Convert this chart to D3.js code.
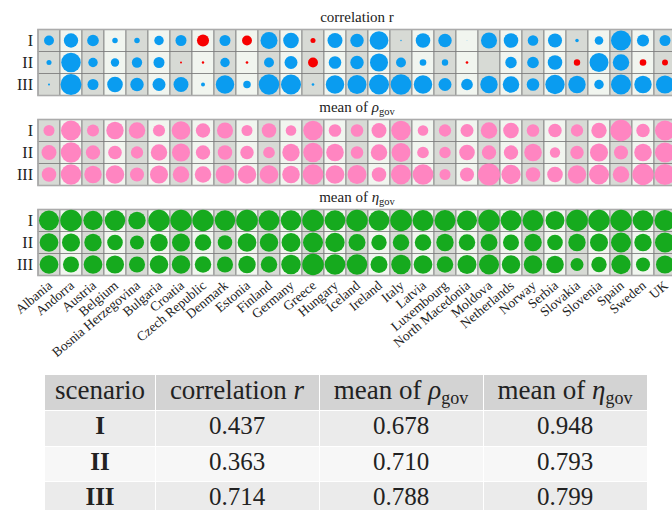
<!DOCTYPE html>
<html>
<head>
<meta charset="utf-8">
<script src="https://cdn.jsdelivr.net/npm/d3@7"></script>
<style>
body { margin: 0; background: #fff; }
text { font-family: "Liberation Serif", "DejaVu Serif", serif; fill: #222; }
</style>
</head>
<body>
<svg width="672" height="510"></svg>
<script>
// countries along the x axis
var countries = ['Albania','Andorra','Austria','Belgium','Bosnia Herzegovina','Bulgaria','Croatia',
  'Czech Republic','Denmark','Estonia','Finland','Germany','Greece','Hungary','Iceland','Ireland',
  'Italy','Latvia','Luxembourg','North Macedonia','Moldova','Netherlands','Norway','Serbia',
  'Slovakia','Slovenia','Spain','Sweden','UK'];
var scenarios = ['I','II','III'];

// correlation r per scenario (negative = red)
var corrI   = [0.45,0.65,0.53,0.25,0.25,0.43,0.50,-0.55,0.50,-0.45,0.77,0.71,-0.23,0.68,0.61,0.85,0.06,0.66,0.61,0.03,0.73,0.66,0.48,0.64,0.16,0.39,0.91,0.55,0.50];
var corrII  = [0.23,0.89,0.43,0.38,0.47,0.50,-0.09,-0.11,0.43,-0.12,0.45,0.59,-0.45,0.57,0.61,0.82,0.45,0.30,0.29,-0.12,null,0.52,0.53,0.66,-0.29,0.86,0.75,-0.30,-0.27];
var corrIII = [0.09,0.95,0.50,0.71,0.61,0.59,0.68,0.18,0.84,0.34,0.93,0.91,0.12,0.84,0.86,0.91,0.94,0.84,0.59,0.53,0.79,0.75,0.57,0.88,0.79,0.43,0.91,0.79,0.82];

// mean of rho_gov
var rhoI   = [0.50,0.91,0.55,0.79,0.75,0.55,0.85,0.65,0.73,0.50,0.66,0.48,0.89,0.57,0.57,0.68,0.89,0.48,0.56,0.59,0.75,0.71,0.57,0.61,0.56,0.70,0.97,0.61,0.91];
var rhoII  = [0.68,0.93,0.65,0.62,0.56,0.75,0.82,0.65,0.66,0.61,0.53,0.79,0.89,0.80,0.57,0.75,0.86,0.53,0.52,0.71,0.65,0.65,0.80,0.47,0.61,0.82,0.64,0.80,0.91];
var rhoIII = [0.66,0.93,0.79,0.84,0.64,0.82,0.75,0.75,0.85,0.84,0.85,0.80,0.94,0.85,0.86,0.66,0.91,0.94,0.50,0.64,1.00,0.88,0.66,0.71,0.84,0.91,0.75,0.97,0.95];

// mean of eta_gov
var etaI   = [0.91,0.98,0.88,0.93,0.79,0.97,0.97,0.97,0.93,0.98,0.94,0.93,0.98,0.94,0.97,0.94,0.98,0.95,0.95,0.91,0.97,0.94,0.95,0.86,0.98,0.97,0.97,0.94,0.95];
var etaII  = [0.85,0.82,0.79,0.71,0.64,0.80,0.82,0.75,0.66,0.85,0.84,0.86,0.91,0.88,0.77,0.70,0.75,0.75,0.79,0.75,0.77,0.73,0.80,0.71,0.79,0.82,0.91,0.79,0.91];
var etaIII = [0.85,0.73,0.85,0.82,0.73,0.84,0.84,0.75,0.73,0.79,0.75,0.89,0.98,0.94,0.93,0.77,0.89,0.85,0.75,0.86,0.91,0.84,0.84,0.80,0.59,0.70,0.88,0.64,0.82];

// summary table
var tableCorr = ['0.437','0.363','0.714'];
var tableRho  = ['0.678','0.710','0.788'];
var tableEta  = ['0.948','0.793','0.799'];

var svg = d3.select('svg');

var cell = 22;
var x = d3.scaleBand().domain(countries).range([38, 38 + cell * countries.length]);
var r = d3.scaleLinear().domain([0, 1]).range([0, 11]);

var panels = [
  {name: 'corr', top: 29.5, rows: [corrI, corrII, corrIII], title: 'correlation r', titleY: 22},
  {name: 'rho',  top: 119.5, rows: [rhoI, rhoII, rhoIII], title: 'ρ', titleY: 112, color: '#ff85c1'},
  {name: 'eta',  top: 209.5, rows: [etaI, etaII, etaIII], title: 'η', titleY: 202, color: '#16aa1e'}
];

var midX = (x.range()[0] + x.range()[1]) / 2;

panels.forEach(function(p) {
  var y = d3.scaleBand().domain(scenarios).range([p.top, p.top + cell * 3]);
  var g = svg.append('g');

  // striped cells
  scenarios.forEach(function(s) {
    g.selectAll('.c' + s)
      .data(countries)
      .enter()
      .append('rect')
      .attr('x', function(d) { return x(d); })
      .attr('y', y(s))
      .attr('width', x.bandwidth())
      .attr('height', y.bandwidth())
      .attr('fill', function(d, i) { return i % 2 == 0 ? '#d7dad5' : '#f1f5ef'; })
      .attr('stroke', '#7d7d7d')
      .attr('stroke-width', 0.8);
  });

  // frame
  g.append('rect')
    .attr('x', x.range()[0])
    .attr('y', p.top)
    .attr('width', x.range()[1] - x.range()[0])
    .attr('height', cell * 3)
    .attr('fill', 'none')
    .attr('stroke', '#ababab')
    .attr('stroke-width', 1.6);

  // circles
  p.rows.forEach(function(vals, k) {
    g.selectAll('.dot' + k)
      .data(vals.map(function(v, i) { return {c: countries[i], v: v}; }).filter(function(d) { return d.v != null; }))
      .enter()
      .append('circle')
      .attr('cx', function(d) { return x(d.c) + x.bandwidth() / 2; })
      .attr('cy', y(scenarios[k]) + y.bandwidth() / 2)
      .attr('r', function(d) { return r(Math.abs(d.v)); })
      .attr('fill', function(d) {
        if (p.color) return p.color;
        return d.v < 0 ? '#f70000' : '#0a9cf0';
      });
  });

  // row labels
  g.selectAll('.rl')
    .data(scenarios)
    .enter()
    .append('text')
    .attr('x', 33)
    .attr('y', function(d) { return y(d) + y.bandwidth() / 2 + 5.5; })
    .attr('text-anchor', 'end')
    .style('font-size', '16px')
    .text(function(d) { return d; });

  // title
  var t = svg.append('text')
    .attr('x', midX)
    .attr('y', p.titleY)
    .attr('text-anchor', 'middle')
    .style('font-size', '15px');
  if (p.name == 'corr') {
    t.text(p.title);
  } else {
    t.append('tspan').text('mean of ');
    t.append('tspan').style('font-style', 'italic').text(p.title);
    t.append('tspan').attr('dy', 3).style('font-size', '10.5px').text('gov');
  }
});

// country labels
svg.selectAll('.country')
  .data(countries)
  .enter()
  .append('text')
  .attr('transform', function(d) { return 'translate(' + (x(d) + x.bandwidth() / 2 + 4) + ',287) rotate(-40)'; })
  .attr('text-anchor', 'end')
  .style('font-size', '13.5px')
  .text(function(d) { return d; });

// summary table
var colEdges = [45, 155, 319, 483, 647];
var rowEdges = [375, 410, 446, 481, 516];
var rowFill = ['#d3d3d3', '#ebebeb', '#f7f7f7', '#ebebeb'];
var tableRows = scenarios.map(function(s, i) { return [s, tableCorr[i], tableRho[i], tableEta[i]]; });

var tbl = svg.append('g');
rowFill.forEach(function(f, ri) {
  for (var ci = 0; ci < 4; ci++) {
    tbl.append('rect')
      .attr('x', colEdges[ci] + (ci > 0 ? 1 : 0))
      .attr('y', rowEdges[ri] + (ri > 0 ? 1 : 0))
      .attr('width', colEdges[ci + 1] - colEdges[ci] - (ci > 0 ? 1 : 0))
      .attr('height', rowEdges[ri + 1] - rowEdges[ri] - (ri > 0 ? 1 : 0))
      .attr('fill', f);
  }
});

function colMid(ci) { return (colEdges[ci] + colEdges[ci + 1]) / 2; }

var hy = rowEdges[0] + 24;
tbl.append('text').attr('x', colMid(0)).attr('y', hy).attr('text-anchor', 'middle')
  .style('font-size', '27px').text('scenario');
var h1 = tbl.append('text').attr('x', colMid(1)).attr('y', hy).attr('text-anchor', 'middle').style('font-size', '27px');
h1.append('tspan').text('correlation ');
h1.append('tspan').style('font-style', 'italic').text('r');
[['ρ', 2], ['η', 3]].forEach(function(h) {
  var ht = tbl.append('text').attr('x', colMid(h[1])).attr('y', hy).attr('text-anchor', 'middle').style('font-size', '27px');
  ht.append('tspan').text('mean of ');
  ht.append('tspan').style('font-style', 'italic').text(h[0]);
  ht.append('tspan').attr('dy', 5).style('font-size', '18px').text('gov');
});

tableRows.forEach(function(row, ri) {
  var ty = rowEdges[ri + 1] + 24;
  row.forEach(function(v, ci) {
    tbl.append('text')
      .attr('x', colMid(ci))
      .attr('y', ty)
      .attr('text-anchor', 'middle')
      .style('font-size', '25px')
      .style('font-weight', ci == 0 ? 'bold' : 'normal')
      .text(v);
  });
});
</script>
</body>
</html>
